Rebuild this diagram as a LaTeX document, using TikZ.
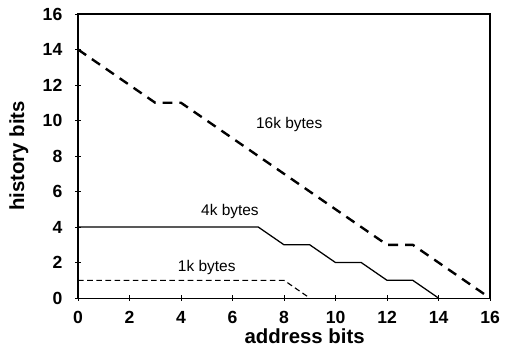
\documentclass[tikz,border=0pt]{standalone}
\usepackage{fontspec}
\setmainfont{Liberation Sans}
\usetikzlibrary{positioning}
\tikzset{
  frameline/.style={line width=0.8pt},
  tickmark/.style={line width=0.6pt},
  ticklbl/.style={font=\bfseries\fontsize{12.5}{14}\selectfont, inner sep=1pt},
  axlbl/.style={font=\bfseries\fontsize{14.5}{16}\selectfont},
  curvelbl/.style={font=\fontsize{11}{12}\selectfont},
  big/.style={line width=1.7pt, dash pattern=on 7pt off 5pt},
  mid/.style={line width=0.9pt},
  small/.style={line width=0.8pt, dash pattern=on 4pt off 2.5pt},
}
\begin{document}
\begin{tikzpicture}[x=0.644cm, y=0.444cm]
  \useasboundingbox (-3.03,-2.93) rectangle (16.62,16.79);

  % ---- frame and ticks ----
  \draw[frameline] (0,0) rectangle (16,16);
  \foreach \v in {0,2,...,16} {
    \draw[tickmark] (\v,-0.15) -- (\v,0.15);
    \draw[tickmark] (-0.1,\v) -- (0.1,\v);
    \node[ticklbl, below=8pt] (xt\v) at (\v,0) {\v};
    \node[ticklbl, left=10pt] (yt\v) at (0,\v) {\v};
  }
  \node[axlbl] (xlab) at (8.8,-2.15) {address bits};
  \node[axlbl, rotate=90] (ylab) at (-2.3,8.0) {history bits};

  % ---- curves ----
  \draw[big] (0,14) -- (3,11) -- (4,11) -- (12,3) -- (13,3) -- (16,0);
  \draw[mid] (0,4) -- (7,4) -- (8,3) -- (9,3) -- (10,2) -- (11,2)
    -- (12,1) -- (13,1) -- (14,0);
  \draw[small] (0,1) -- (8,1) -- (9,0);

  \node[curvelbl] (c16) at (8.2,9.75) {16k bytes};
  \node[curvelbl] (c4) at (5.9,4.85) {4k bytes};
  \node[curvelbl] (c1) at (5.0,1.75) {1k bytes};
\end{tikzpicture}
\end{document}
